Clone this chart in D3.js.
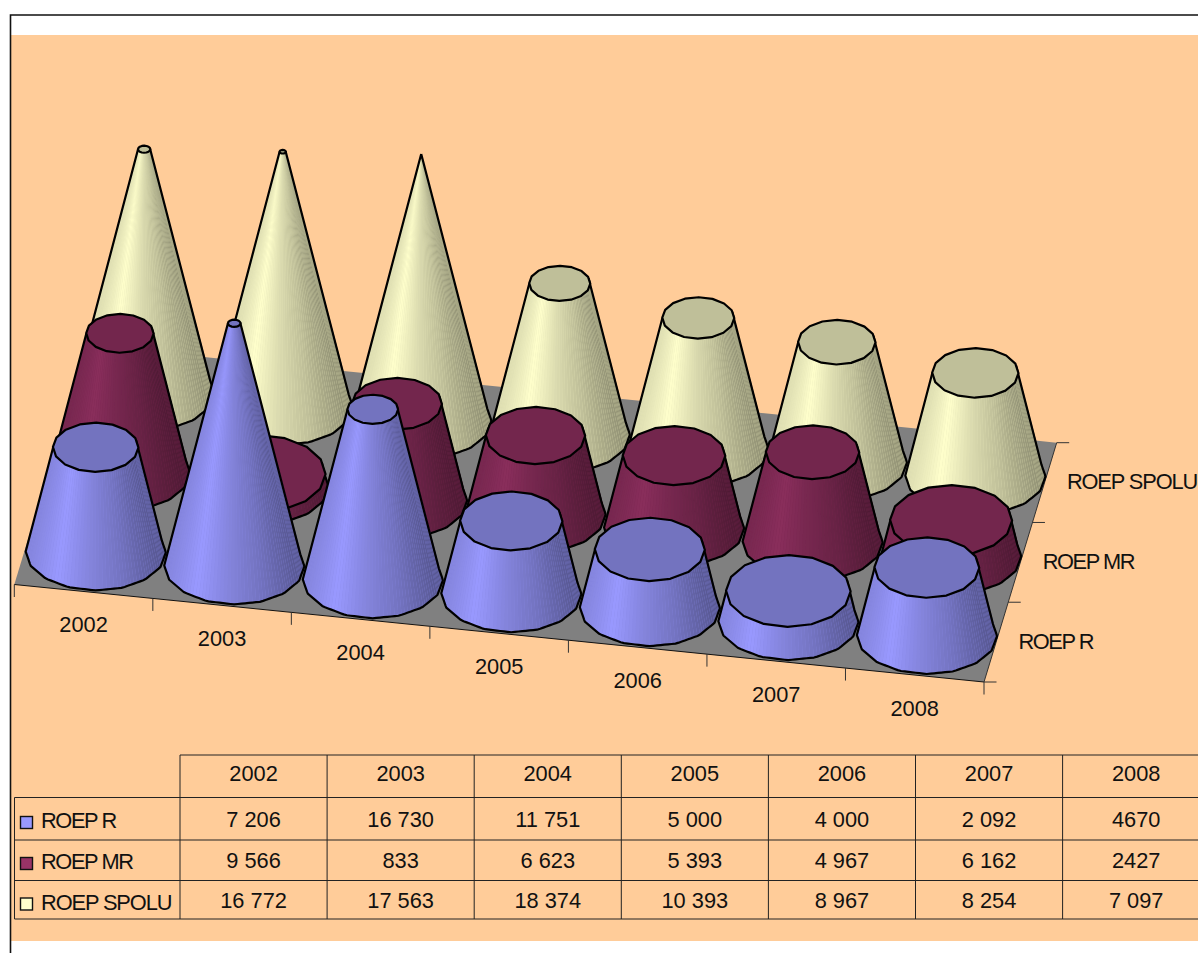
<!DOCTYPE html>
<html>
<head>
<meta charset="utf-8">
<script src="https://d3js.org/d3.v7.min.js"></script>
<style>
html,body{margin:0;padding:0;background:#fff;overflow:hidden}
svg{display:block}
text{font-family:"Liberation Sans",Arial,sans-serif;font-size:21.8px;fill:#111}
</style>
</head>
<body>
<script>
// ---------- data ----------
const categories = ["2002","2003","2004","2005","2006","2007","2008"];
const seriesNames = ["ROEP R","ROEP MR","ROEP SPOLU"];
const valuesR     = [7206,16730,11751,5000,4000,2092,4670];
const valuesMR    = [9566,833,6623,5393,4967,6162,2427];
const valuesSpolu = [16772,17563,18374,10393,8967,8254,7097];
const seriesColors = ["#9999FF","#993366","#FFFFCC"];
const bodyTone = [1,0.9,1];
const plainValues = [4670,2427];   // printed without a thousands space in the table

// ---------- layout ----------
const W = 1198, H = 953;
const floorFL = [14.3,584.5], floorFR = [984,682], floorBR = [1056.7,442.7];
const U = [floorFR[0]-floorFL[0], floorFR[1]-floorFL[1]];
const V = [floorBR[0]-floorFR[0], floorBR[1]-floorFR[1]];
const coneHeight = 266, radiusU = 0.5, radiusVBase = 0.48, radiusVTop = 0.5;
const sides = 16, strips = 64;

const svg = d3.select("body").append("svg").attr("width",W).attr("height",H);

// scales
const xBand = d3.scaleBand().domain(categories).range([0,1]);
const zBand = d3.scaleBand().domain(seriesNames).range([0,1]);
const maxValue = d3.max([...valuesR,...valuesMR,...valuesSpolu]);
const hScale = d3.scaleLinear().domain([0,maxValue]).range([0,coneHeight]);
const shade = d3.scaleLinear().domain([-1,-0.55,-0.12,0.4,1]).range([0.86,1,0.87,0.75,0.56]).clamp(true);
const project = (u,v) => [floorFL[0]+U[0]*u+V[0]*v, floorFL[1]+U[1]*u+V[1]*v];
const line = d3.line();
const scaleColor = (c,k)=>{const r=d3.rgb(c);return d3.rgb(r.r*k,r.g*k,r.b*k).formatHex();};
const labelSpacing = s => s.length>7 ? "-1.1px" : "-1.4px";

// ---------- frame ----------
svg.append("rect").attr("x",11).attr("y",35).attr("width",W-11).attr("height",906).attr("fill","#FFCC99");
svg.append("path").attr("d","M10.5,953V15H1198").attr("fill","none").attr("stroke","#111").attr("stroke-width",1.6);

// ---------- floor ----------
const floorBL = project(0,1);
svg.append("path").attr("d",line([floorFL,floorFR,floorBR,floorBL])+"Z").attr("fill","#808080");
svg.append("path").attr("d",line([floorFL,floorFR])).attr("stroke","#111").attr("stroke-width",1).attr("fill","none");
svg.append("path").attr("d",line([floorFR,floorBR])).attr("stroke","#333").attr("stroke-width",1).attr("fill","none");

// ticks
const axisG = svg.append("g").attr("stroke","#333").attr("stroke-width",1);
d3.range(categories.length+1).forEach(i=>{
  const p = project(i/categories.length,0);
  axisG.append("line").attr("x1",p[0]).attr("y1",p[1]).attr("x2",p[0]).attr("y2",p[1]+12.5);
});
d3.range(seriesNames.length+1).forEach(j=>{
  const p = project(1,j/seriesNames.length);
  axisG.append("line").attr("x1",p[0]).attr("y1",p[1]).attr("x2",p[0]+12.5).attr("y2",p[1]);
});
// axis labels
categories.forEach(c=>{
  const p = project(xBand(c)+xBand.bandwidth()/2,0);
  svg.append("text").attr("x",p[0]).attr("y",p[1]+41).attr("text-anchor","middle").text(c);
});
seriesNames.forEach(s=>{
  const p = project(1,zBand(s)+zBand.bandwidth()/2);
  svg.append("text").attr("x",p[0]+22.3).attr("y",p[1]+6.5).attr("letter-spacing",labelSpacing(s)).text(s);
});

// ---------- cones ----------
const polyUnit = t=>{
  const k = ((t/(2*Math.PI))%1+1)%1*sides, i = Math.floor(k), f = k-i;
  const a0 = 2*Math.PI*i/sides + 0.16, a1 = 2*Math.PI*(i+1)/sides + 0.16;
  return [Math.cos(a0)*(1-f)+Math.cos(a1)*f, Math.sin(a0)*(1-f)+Math.sin(a1)*f];
};
const ax = [U[0]/categories.length*radiusU, U[1]/categories.length*radiusU];
const bx = [V[0]/seriesNames.length*radiusVBase, V[1]/seriesNames.length*radiusVBase];
const tx = [V[0]/seriesNames.length*radiusVTop, V[1]/seriesNames.length*radiusVTop];
const det = ax[0]*bx[1]-ax[1]*bx[0];
// apex in ellipse coordinates, for the tangent lines of the cone
const apexX = (-bx[0]*(-coneHeight))/det, apexY = (ax[0]*(-coneHeight))/det;
const theta = Math.atan2(apexY,apexX), phi = Math.acos(1/Math.hypot(apexX,apexY));
const extentX = Math.hypot(ax[0],bx[0]);

function drawCone(g,cat,ser,val,color,tone){
  const c = project(xBand(cat)+xBand.bandwidth()/2, zBand(ser)+zBand.bandwidth()/2);
  const hh = hScale(val), k = 1-val/maxValue;
  const basePt = t=>{const u=polyUnit(t);return [c[0]+ax[0]*u[0]+bx[0]*u[1], c[1]+ax[1]*u[0]+bx[1]*u[1]];};
  const topPt  = t=>{const u=polyUnit(t);return [c[0]+k*(ax[0]*u[0]+tx[0]*u[1]), c[1]-hh+k*(ax[1]*u[0]+tx[1]*u[1])];};
  const t0 = theta+phi, t1 = theta+2*Math.PI-phi;
  const ts = d3.range(strips+1).map(i=>t0+(t1-t0)*i/strips);
  const arc = ts.map(basePt);
  // opaque underlay so the faint seams between strips never show the floor
  g.append("path").attr("d",line([topPt(t0),...arc,topPt(t1)])+"Z").attr("fill",scaleColor(color,0.9*tone));
  d3.pairs(ts).forEach(([a,b])=>{
    const p = [basePt(a),basePt(b),topPt(b),topPt(a)];
    const f = ((p[0][0]+p[1][0])/2-c[0])/extentX;
    g.append("path").attr("d",line(p)+"Z").attr("fill",scaleColor(color,shade(f)*tone));
  });
  // silhouette
  g.append("path").attr("d",line([topPt(t0),...arc,topPt(t1)]))
    .attr("fill","none").attr("stroke","#000").attr("stroke-width",2.2).attr("stroke-linejoin","round");
  // top cap
  const cap = d3.range(sides).map(i=>topPt(2*Math.PI*i/sides+0.001));
  g.append("path").attr("d",line(cap)+"Z").attr("fill",scaleColor(color,0.75))
    .attr("stroke","#000").attr("stroke-width",2.2).attr("stroke-linejoin","round");
}
const coneG = svg.append("g");
const allSeries = [valuesR,valuesMR,valuesSpolu];
[2,1,0].forEach(j=>{
  categories.forEach((cat,i)=>drawCone(coneG,cat,seriesNames[j],allSeries[j][i],seriesColors[j],bodyTone[j]));
});

// ---------- data table ----------
const colEdges = d3.range(categories.length+1).map(i=>180+147.1*i);
const rowEdges = [755,797.5,840,880.5,919];
const tableG = svg.append("g").attr("stroke","#222").attr("stroke-width",1);
const tl = (x1,y1,x2,y2)=>tableG.append("line").attr("x1",x1).attr("y1",y1).attr("x2",x2).attr("y2",y2);
tl(180,rowEdges[0],W,rowEdges[0]);
rowEdges.slice(1).forEach(y=>tl(14.5,y,W,y));
tl(14.5,rowEdges[1],14.5,rowEdges[4]);
colEdges.forEach(x=>tl(x,rowEdges[0],x,rowEdges[4]));

const fmtValue = v=> plainValues.includes(v) ? String(v) : d3.format(",")(v).replace(/,/g," ");
categories.forEach((c,i)=>{
  const cx = (colEdges[i]+colEdges[i+1])/2;
  svg.append("text").attr("x",cx).attr("y",781).attr("text-anchor","middle").text(c);
  allSeries.forEach((vals,j)=>{
    svg.append("text").attr("x",cx).attr("y",[826.5,867.5,907.5][j]).attr("text-anchor","middle").text(fmtValue(vals[i]));
  });
});
seriesNames.forEach((s,j)=>{
  const y = [828,869,909.5][j];
  svg.append("rect").attr("x",20.5).attr("y",y-11.5).attr("width",12).attr("height",12)
    .attr("fill",seriesColors[j]).attr("stroke","#111").attr("stroke-width",1.4);
  svg.append("text").attr("x",41).attr("y",y).attr("letter-spacing",labelSpacing(s)).text(s);
});
</script>
</body>
</html>
